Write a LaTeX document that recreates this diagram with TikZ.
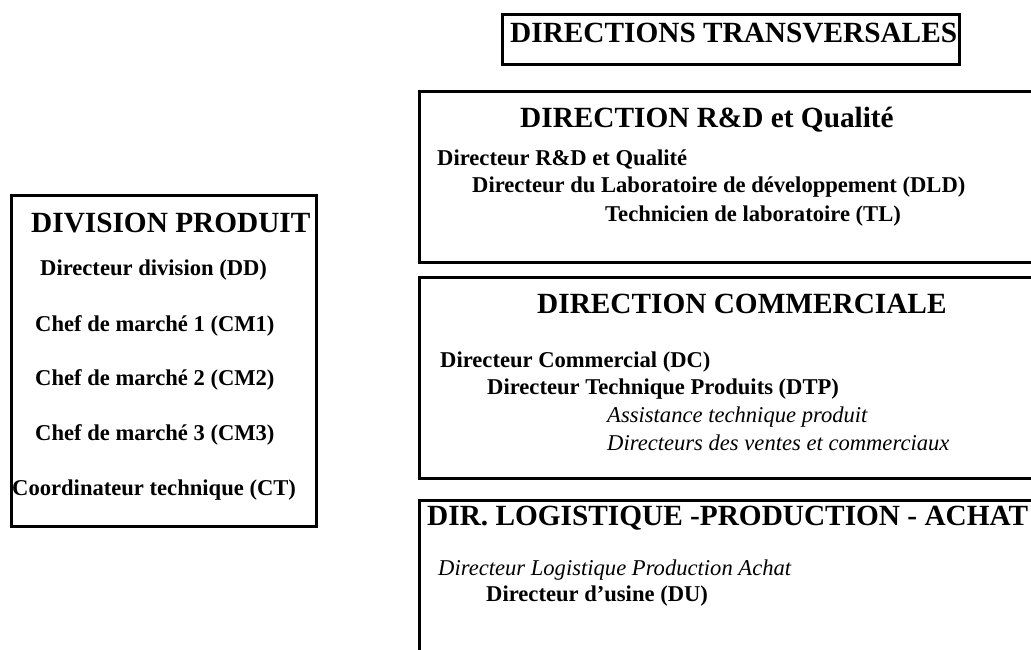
\documentclass[tikz,border=0pt]{standalone}
\usepackage{fontspec}
\setmainfont{Liberation Serif}
\usepackage{tikz}

\begin{document}
\begin{tikzpicture}[x=1pt, y=-1pt,
  cadre/.style={draw, rectangle, line width=2.6pt, inner sep=0pt, anchor=north west},
  titre/.style={anchor=base west, inner sep=0pt, font=\fontsize{29.3}{32}\selectfont\bfseries},
  poste/.style={anchor=base west, inner sep=0pt, font=\fontsize{22.6}{26}\selectfont\bfseries},
  posteit/.style={anchor=base west, inner sep=0pt, font=\fontsize{22.6}{26}\selectfont\itshape}]
\useasboundingbox (0,0) rectangle (1031,650);
\clip (0,0) rectangle (1031,650);

% Division produit
\node[cadre, minimum width=305pt, minimum height=331pt] (division) at (10,194) {};
\node[titre] (divtitre) at (31,232) {DIVISION PRODUIT};
\node[poste] (dd) at (40,275) {Directeur division (DD)};
\node[poste] (cm1) at (35,331) {Chef de marché 1 (CM1)};
\node[poste] (cm2) at (35,385) {Chef de marché 2 (CM2)};
\node[poste] (cm3) at (35,440) {Chef de marché 3 (CM3)};
\node[poste] (ct) at (12,495) {Coordinateur technique (CT)};

% Directions transversales
\node[cadre, minimum width=457pt, minimum height=50pt] (transv) at (501,13) {};
\node[titre] (transvtitre) at (510,43) {DIRECTIONS TRANSVERSALES};

% Direction R&D
\node[cadre, minimum width=640pt, minimum height=171pt] (rd) at (418,90) {};
\node[titre] (rdtitre) at (520,128) {DIRECTION R\&D et Qualité};
\node[poste] (drd) at (437,166) {Directeur R\&D et Qualité};
\node[poste] (dld) at (472,193) {Directeur du Laboratoire de développement (DLD)};
\node[poste] (tl) at (605,221) {Technicien de laboratoire (TL)};

% Direction commerciale
\node[cadre, minimum width=640pt, minimum height=201pt] (com) at (418,276) {};
\node[titre] (comtitre) at (537,313) {DIRECTION COMMERCIALE};
\node[poste] (dc) at (440,367) {Directeur Commercial (DC)};
\node[poste] (dtp) at (487,394) {Directeur Technique Produits (DTP)};
\node[posteit] (atp) at (607,422) {Assistance technique produit};
\node[posteit] (dvc) at (607,450) {Directeurs des ventes et commerciaux};

% Logistique production achat
\node[cadre, minimum width=640pt, minimum height=200pt] (lpa) at (418,499) {};
\node[titre] (lpatitre) at (427,525) {DIR. LOGISTIQUE -PRODUCTION - ACHAT};
\node[posteit] (dlpa) at (438,575) {Directeur Logistique Production Achat};
\node[poste] (du) at (486,601) {Directeur d’usine (DU)};
\end{tikzpicture}
\end{document}
